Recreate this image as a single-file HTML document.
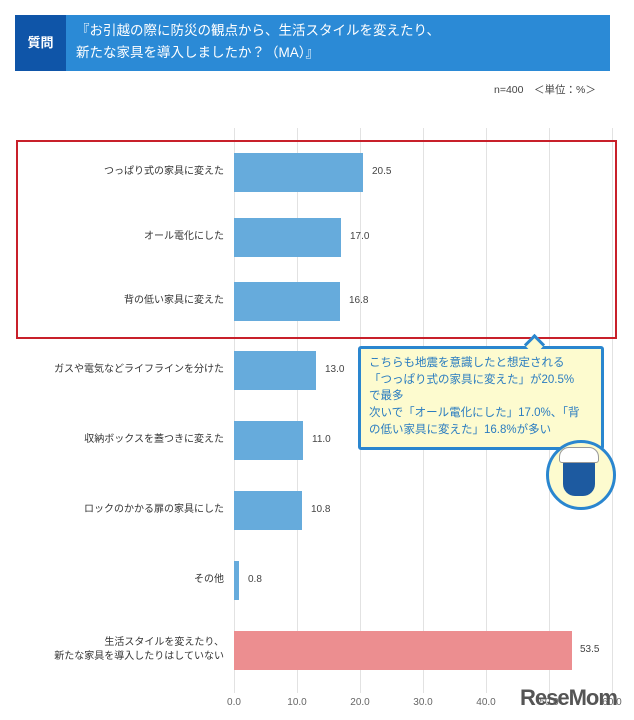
<!DOCTYPE html><html><head><meta charset="utf-8"><style>
body{margin:0;width:634px;height:720px;background:#fff;font-family:"Liberation Sans","Noto Sans CJK JP",sans-serif;position:relative;overflow:hidden;color:#333}
.a{position:absolute}
.lbl{position:absolute;right:410px;font-size:10px;text-align:right;line-height:14px;color:#333}
.bar{position:absolute;left:234px;height:39px;background:#66abdc}
.v{position:absolute;font-size:10px;color:#444}
.g{position:absolute;top:128px;height:565px;width:1px;background:#e2e2e2}
.t{position:absolute;top:697px;font-size:10px;color:#666;width:40px;text-align:center}
</style></head><body>
<div class="a" style="left:15px;top:15px;width:595px;height:56px;background:#2b8ad6"></div>
<div class="a" style="left:15px;top:15px;width:51px;height:56px;background:#0f55a8;color:#fff;font-size:13px;font-weight:bold;line-height:56px;text-align:center">質問</div>
<div class="a" style="left:76px;top:20px;color:#fff;font-size:13.5px;line-height:22px">『お引越の際に防災の観点から、生活スタイルを変えたり、<br>新たな家具を導入しましたか？（MA）』</div>
<div class="a" style="left:494px;top:82px;font-size:10.5px;color:#444">n=400　＜単位：%＞</div>
<div class="g" style="left:234px"></div><div class="g" style="left:297px"></div><div class="g" style="left:360px"></div><div class="g" style="left:423px"></div><div class="g" style="left:486px"></div><div class="g" style="left:549px"></div><div class="g" style="left:612px"></div>
<div class="bar" style="top:153px;width:129px"></div><div class="v" style="left:372px;top:166px">20.5</div>
<div class="bar" style="top:218px;width:107px"></div><div class="v" style="left:350px;top:231px">17.0</div>
<div class="bar" style="top:282px;width:106px"></div><div class="v" style="left:349px;top:295px">16.8</div>
<div class="bar" style="top:351px;width:82px"></div><div class="v" style="left:325px;top:364px">13.0</div>
<div class="bar" style="top:421px;width:69px"></div><div class="v" style="left:312px;top:434px">11.0</div>
<div class="bar" style="top:491px;width:68px"></div><div class="v" style="left:311px;top:504px">10.8</div>
<div class="bar" style="top:561px;width:5px"></div><div class="v" style="left:248px;top:574px">0.8</div>
<div class="bar" style="top:631px;width:338px;background:#ec8e90"></div><div class="v" style="left:580px;top:644px">53.5</div>
<div class="lbl" style="top:165px">つっぱり式の家具に変えた</div>
<div class="lbl" style="top:230px">オール電化にした</div>
<div class="lbl" style="top:294px">背の低い家具に変えた</div>
<div class="lbl" style="top:363px">ガスや電気などライフラインを分けた</div>
<div class="lbl" style="top:433px">収納ボックスを蓋つきに変えた</div>
<div class="lbl" style="top:503px">ロックのかかる扉の家具にした</div>
<div class="lbl" style="top:573px">その他</div>
<div class="lbl" style="top:636px">生活スタイルを変えたり、<br>新たな家具を導入したりはしていない</div>
<div class="a" style="left:16px;top:140px;width:597px;height:195px;border:2px solid #c8202a"></div>
<div class="t" style="left:214px">0.0</div><div class="t" style="left:277px">10.0</div><div class="t" style="left:340px">20.0</div><div class="t" style="left:403px">30.0</div><div class="t" style="left:466px">40.0</div><div class="t" style="left:529px">50.0</div><div class="t" style="left:592px">60.0</div>
<div class="a" style="left:358px;top:346px;width:240px;height:98px;background:#fdfbcf;border:3px solid #2a86cf;border-radius:3px"></div>
<div class="a" style="left:527px;top:337px;width:12px;height:12px;background:#fdfbcf;border-left:3px solid #2a86cf;border-top:3px solid #2a86cf;transform:rotate(45deg)"></div>
<div class="a" style="left:369px;top:355px;font-size:11.5px;line-height:16.7px;color:#2a7cc0">こちらも地震を意識したと想定される<br>「つっぱり式の家具に変えた」が20.5%<br>で最多<br>次いで「オール電化にした」17.0%、「背<br>の低い家具に変えた」16.8%が多い</div>
<div class="a" style="left:546px;top:440px;width:64px;height:64px;border-radius:50%;background:#fdfbcf;border:3px solid #2a86cf"></div>
<div class="a" style="left:563px;top:452px;width:32px;height:44px;border-radius:12px;background:#1d5aa0"></div>
<div class="a" style="left:559px;top:447px;width:38px;height:14px;border-radius:10px 10px 3px 3px;background:#fff;border:1px solid #999"></div>
<div class="a" style="left:520px;top:685px;font-size:22px;font-weight:bold;color:#555;letter-spacing:-1px">ReseMom</div>
</body></html>
